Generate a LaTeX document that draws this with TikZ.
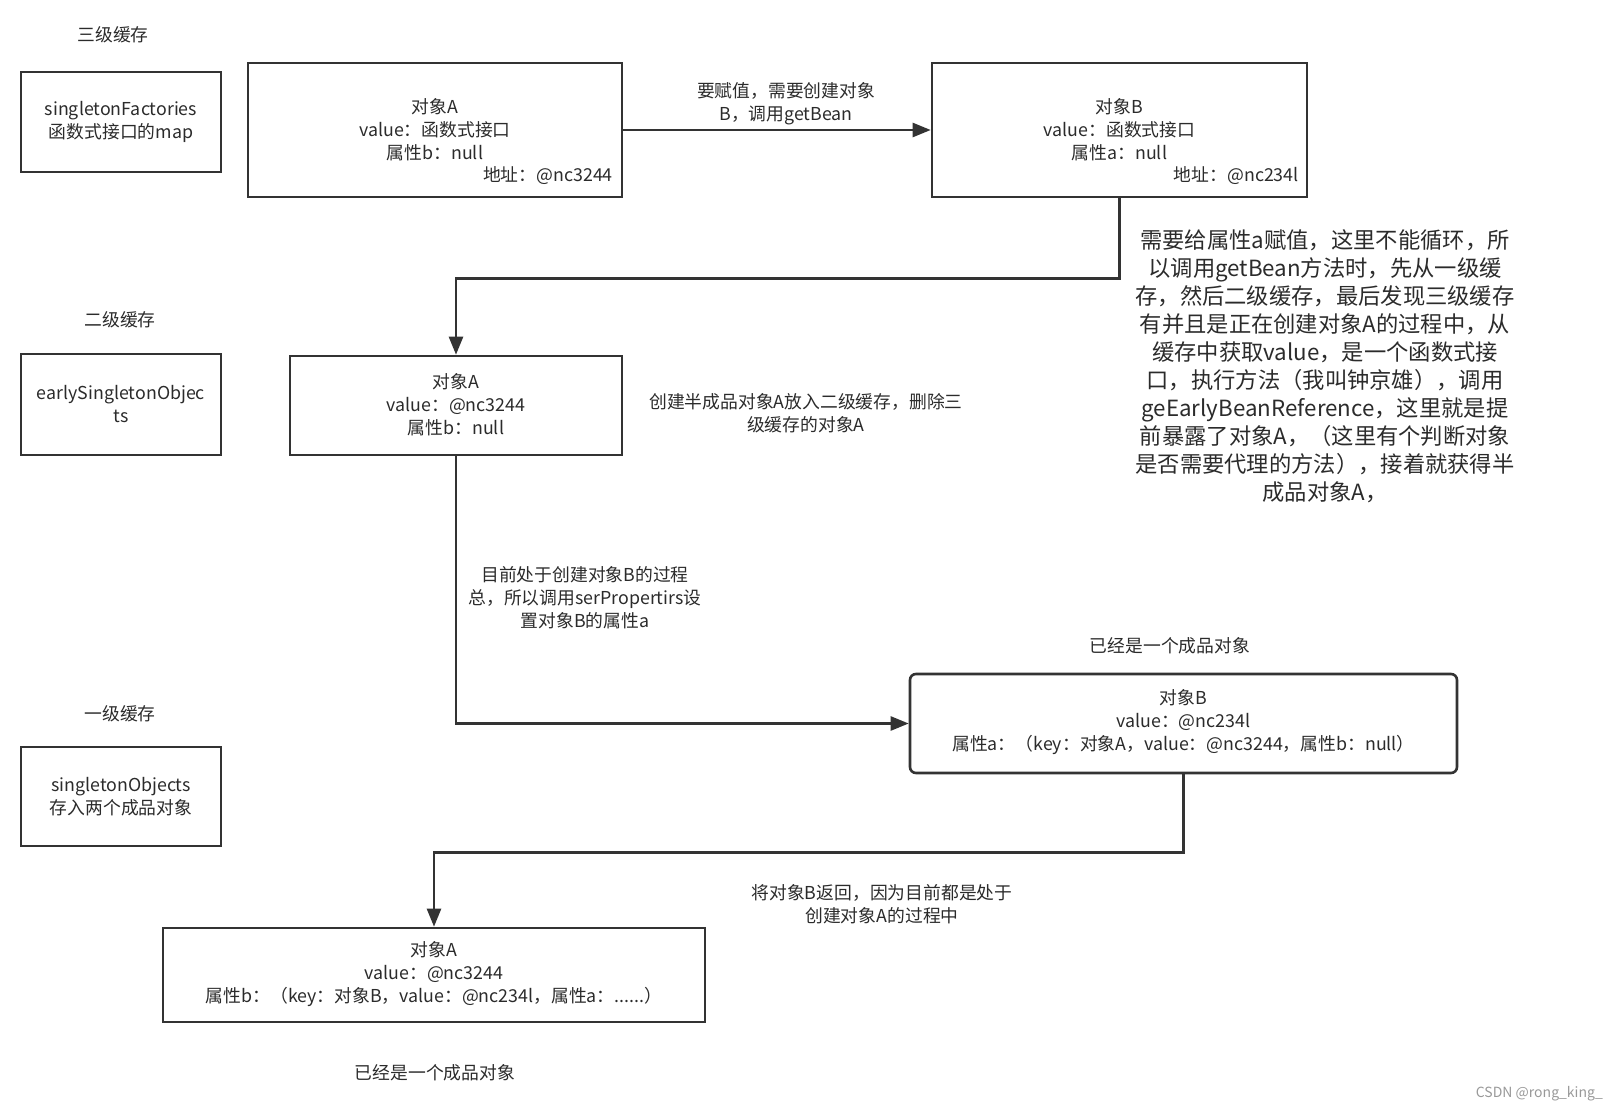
\documentclass[tikz,border=0pt]{standalone}
\usepackage{fontspec}
\setmainfont{Noto Sans CJK SC}
\usetikzlibrary{arrows.meta}
\definecolor{linec}{HTML}{333333}
\definecolor{txtc}{HTML}{2B2B2B}
\begin{document}
\begin{tikzpicture}[x=1pt,y=-1pt,
  boxnode/.style={draw=linec, line width=2.6pt, inner sep=0pt, minimum width=#1},
  bt/.style={text=txtc, font=\fontsize{17.8}{23}\selectfont, align=center, inner sep=0pt},
  bigt/.style={text=txtc, font=\fontsize{22.3}{28}\selectfont, align=center, inner sep=0pt},
  arr/.style={draw=linec, line width=2.5pt, -{Triangle[length=18pt,width=14pt]}}
]
\useasboundingbox (0,0) rectangle (1618,1113);

% cache labels and boxes
\node[bt] (l3) at (113,35) {三级缓存};
\node[boxnode=200pt, minimum height=100pt] (sf) at (121,122) {};
\node[bt] (sft) at (121,122) {singletonFactories\\函数式接口的map};

\node[bt] (l2) at (120,320) {二级缓存};
\node[boxnode=200pt, minimum height=101pt] (es) at (121,404.5) {};
\node[bt] (est) at (121,404.5) {earlySingletonObjec\\ts};

\node[bt] (l1) at (120,714) {一级缓存};
\node[boxnode=200pt, minimum height=99pt] (so) at (121,796.5) {};
\node[bt] (sot) at (121,796.5) {singletonObjects\\存入两个成品对象};

% Object A (1)
\node[boxnode=374pt, minimum height=134pt] (A1) at (435,130) {};
\node[bt] (A1t) at (435,130) {对象A\\value：函数式接口\\属性b：null};
\node[bt, anchor=east] (A1addr) at (613,176) {地址：@nc3244};

% Object B (1)
\node[boxnode=375pt, minimum height=134pt] (B1) at (1119.5,130) {};
\node[bt] (B1t) at (1119.5,130) {对象B\\value：函数式接口\\属性a：null};
\node[bt, anchor=east] (B1addr) at (1299,176) {地址：@nc234l};

% Object A (2)
\node[boxnode=332pt, minimum height=99pt] (A2) at (456,405.5) {};
\node[bt] (A2t) at (456,405) {对象A\\value：@nc3244\\属性b：null};

% Object B (2)
\node[boxnode=547pt, minimum height=99pt, rounded corners=6pt] (B2) at (1183.5,723.5) {};
\node[bt] (B2t) at (1183.5,722.5) {对象B\\value：@nc234l\\属性a：（key：对象A，value：@nc3244，属性b：null）};

% Object A (3)
\node[boxnode=542pt, minimum height=94pt] (A3) at (434,975) {};
\node[bt] (A3t) at (434,974) {对象A\\value：@nc3244\\属性b：（key：对象B，value：@nc234l，属性a：......）};

% connectors
\draw[arr] (A1) -- (B1);
\draw[arr] (B1.south) -- ++(0,80) -| (A2.north);
\draw[arr] (A2.south) |- (B2.west);
\draw[arr] (B2.south) -- ++(0,78) -| (A3.north);

% labels
\node[bt] (lab1) at (786,104) {要赋值，需要创建对象\\B，调用getBean};
\node[bt] (lab2) at (806,413) {创建半成品对象A放入二级缓存，删除三\\级缓存的对象A};
\node[bt] (lab3) at (585,598) {目前处于创建对象B的过程\\总，所以调用serPropertirs设\\置对象B的属性a};
\node[bt] (lab4) at (1170,646) {已经是一个成品对象};
\node[bt] (lab5) at (882,904) {将对象B返回，因为目前都是处于\\创建对象A的过程中};
\node[bt] (lab6) at (435,1073) {已经是一个成品对象};

\node[bigt] (big) at (1325,366.5) {需要给属性a赋值，这里不能循环，所\\以调用getBean方法时，先从一级缓\\存，然后二级缓存，最后发现三级缓存\\有并且是正在创建对象A的过程中，从\\缓存中获取value，是一个函数式接\\口，执行方法（我叫钟京雄），调用\\geEarlyBeanReference，这里就是提\\前暴露了对象A，（这里有个判断对象\\是否需要代理的方法），接着就获得半\\成品对象A，};

\node[text=gray!80, font=\fontsize{14}{16}\selectfont, anchor=east, inner sep=0pt] (wm) at (1603,1094) {CSDN @rong\_king\_};
\end{tikzpicture}
\end{document}
